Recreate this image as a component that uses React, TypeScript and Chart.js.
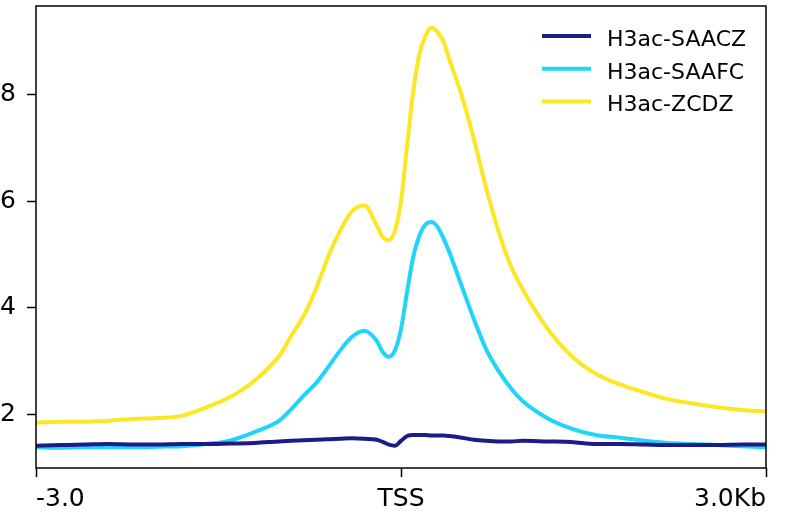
import React, { useEffect, useRef } from "react";
import { Chart, registerables } from "chart.js";

Chart.register(...registerables);

// Positions relative to TSS (bp)
const positions = [
  -3000, -2800, -2600, -2400, -2200, -2000, -1800, -1600, -1400, -1200,
  -1000, -900, -800, -700, -600, -500, -400, -300, -200, -150, -100, -50,
  0, 50, 100, 150, 200, 250, 300, 350, 400, 500, 600, 700, 800, 900, 1000,
  1200, 1400, 1600, 1800, 2000, 2200, 2400, 2600, 2800, 3000,
];

const saaczValues = [
  1.41, 1.42, 1.43, 1.44, 1.43, 1.43, 1.44, 1.44, 1.45, 1.46,
  1.49, 1.5, 1.51, 1.52, 1.53, 1.54, 1.55, 1.54, 1.52, 1.48, 1.43, 1.41,
  1.5, 1.59, 1.61, 1.61, 1.61, 1.6, 1.6, 1.6, 1.59, 1.56, 1.52, 1.5, 1.49, 1.49, 1.5,
  1.49, 1.48, 1.44, 1.44, 1.43, 1.42, 1.42, 1.42, 1.43, 1.43,
];

const saafcValues = [
  1.38, 1.37, 1.38, 1.38, 1.38, 1.39, 1.4, 1.44, 1.51, 1.67,
  1.88, 2.1, 2.35, 2.58, 2.88, 3.2, 3.46, 3.57, 3.38, 3.17, 3.08, 3.2,
  3.6, 4.3, 4.95, 5.35, 5.56, 5.61, 5.52, 5.3, 5.03, 4.4, 3.78, 3.22, 2.82, 2.5, 2.25,
  1.93, 1.73, 1.61, 1.56, 1.5, 1.46, 1.44, 1.42, 1.4, 1.38,
];

const zcdzValues = [
  1.84, 1.86, 1.86, 1.88, 1.91, 1.93, 1.97, 2.13, 2.33, 2.64,
  3.1, 3.48, 3.85, 4.35, 4.95, 5.45, 5.82, 5.92, 5.55, 5.33, 5.27, 5.45,
  6.0, 7.05, 8.05, 8.75, 9.1, 9.26, 9.18, 9.0, 8.65, 7.98, 7.16, 6.25, 5.45, 4.8, 4.35,
  3.62, 3.1, 2.76, 2.56, 2.41, 2.28, 2.2, 2.13, 2.08, 2.05,
];

const seriesLabels = ["H3ac-SAACZ", "H3ac-SAAFC", "H3ac-ZCDZ"];
const seriesColors = ["#1c1c88", "#1fd5fa", "#fde624"];

const xTickValues = [-3000, 0, 3000];
const xTickLabels = ["-3.0", "TSS", "3.0Kb"];
const yTickValues = [2, 4, 6, 8];

const FONT = '"DejaVu Sans", sans-serif';

const framePlugin = {
  id: "frame",
  afterDatasetsDraw(chart: any) {
    const { ctx, chartArea } = chart;
    ctx.save();
    ctx.strokeStyle = "#000";
    ctx.lineWidth = 1.5;
    ctx.strokeRect(
      chartArea.left,
      chartArea.top,
      chartArea.right - chartArea.left,
      chartArea.bottom - chartArea.top
    );
    ctx.restore();
  },
};

const legendPlugin = {
  id: "cornerLegend",
  afterDraw(chart: any) {
    const { ctx, chartArea } = chart;
    ctx.save();
    ctx.font = `22px ${FONT}`;
    ctx.textBaseline = "alphabetic";
    ctx.textAlign = "left";
    chart.data.datasets.forEach((ds: any, i: number) => {
      const y = chartArea.top + 30 + i * 32.7;
      const x0 = chartArea.right - 224;
      ctx.strokeStyle = ds.borderColor;
      ctx.lineWidth = 4;
      ctx.beginPath();
      ctx.moveTo(x0, y);
      ctx.lineTo(x0 + 49, y);
      ctx.stroke();
      ctx.fillStyle = "#000";
      ctx.fillText(ds.label, x0 + 65, y + 10);
    });
    ctx.restore();
  },
};

export default function App() {
  const canvasRef = useRef<HTMLCanvasElement | null>(null);

  useEffect(() => {
    if (!canvasRef.current) return;
    const datasets = [saaczValues, saafcValues, zcdzValues].map((vals, i) => ({
      label: seriesLabels[i],
      data: positions.map((p, j) => ({ x: p, y: vals[j] })),
      borderColor: seriesColors[i],
      backgroundColor: seriesColors[i],
      borderWidth: 4,
      pointRadius: 0,
      cubicInterpolationMode: "monotone" as const,
      fill: false,
    }));
    const chart = new Chart(canvasRef.current, {
      type: "line",
      data: { datasets },
      options: {
        animation: false,
        responsive: false,
        maintainAspectRatio: false,
        layout: { padding: { left: 0, right: 27, top: 6, bottom: 0 } },
        plugins: {
          legend: { display: false },
          tooltip: { enabled: false },
        },
        scales: {
          x: {
            type: "linear",
            min: -3000,
            max: 3000,
            afterBuildTicks: (axis: any) => {
              axis.ticks = xTickValues.map((v) => ({ value: v }));
            },
            afterFit: (axis: any) => {
              axis.height = 46;
              axis.paddingLeft = 0;
              axis.paddingRight = 0;
              axis.paddingTop = 0;
              axis.paddingBottom = 0;
            },
            border: { display: false },
            grid: {
              display: true,
              drawOnChartArea: false,
              drawTicks: true,
              tickLength: 9,
              tickColor: "#000",
              tickWidth: 1.5,
            },
            ticks: {
              align: "inner",
              maxRotation: 0,
              autoSkip: false,
              padding: 7,
              color: "#000",
              font: { family: FONT, size: 25 },
              callback: (value: any) => {
                const idx = xTickValues.indexOf(Number(value));
                return idx >= 0 ? xTickLabels[idx] : "";
              },
            },
          },
          y: {
            type: "linear",
            min: 0.99,
            max: 9.67,
            afterBuildTicks: (axis: any) => {
              axis.ticks = yTickValues.map((v) => ({ value: v }));
            },
            afterFit: (axis: any) => {
              axis.width = 36;
              axis.paddingLeft = 0;
              axis.paddingRight = 0;
              axis.paddingTop = 0;
              axis.paddingBottom = 0;
            },
            border: { display: false },
            grid: {
              display: true,
              drawOnChartArea: false,
              drawTicks: true,
              tickLength: 9,
              tickColor: "#000",
              tickWidth: 1.5,
            },
            ticks: {
              padding: 11,
              color: "#000",
              font: { family: FONT, size: 25 },
              callback: (value: any) => String(value),
            },
          },
        },
      },
      plugins: [framePlugin, legendPlugin],
    });
    return () => chart.destroy();
  }, []);

  return (
    <div
      style={{
        position: "fixed",
        left: 0,
        top: 0,
        width: 793,
        height: 514,
        background: "#fff",
      }}
    >
      <canvas ref={canvasRef} width={793} height={514} />
    </div>
  );
}
